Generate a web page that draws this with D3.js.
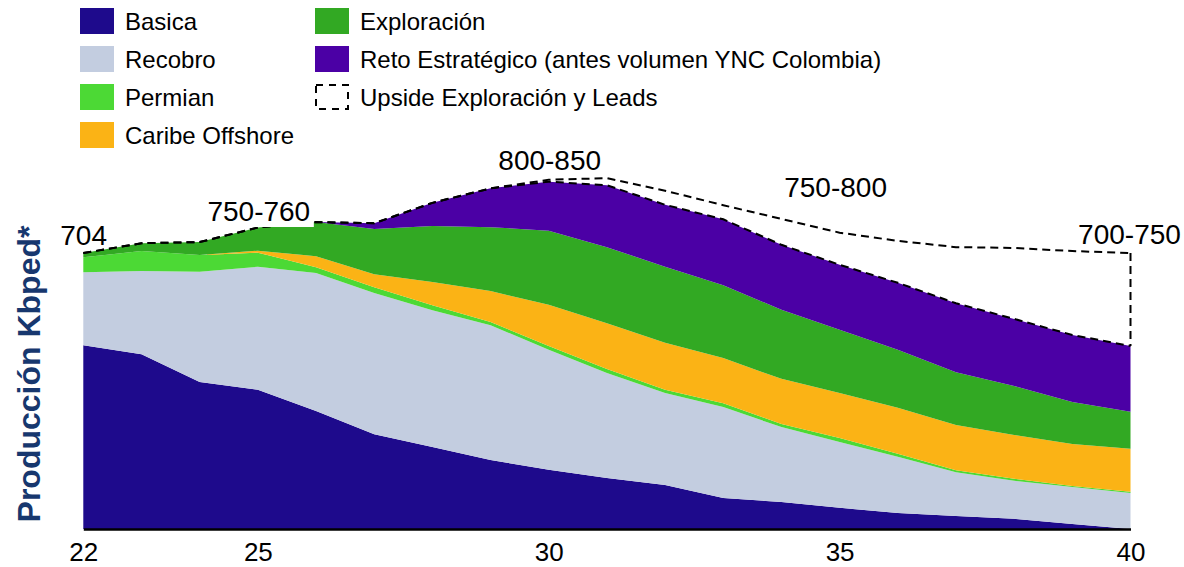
<!DOCTYPE html>
<html>
<head>
<meta charset="utf-8">
<script src="https://cdn.jsdelivr.net/npm/d3@7"></script>
<style>
  body { margin: 0; background: #fff; }
  svg { font-family: "Liberation Sans", Arial, sans-serif; }
</style>
</head>
<body>
<div id="chart"></div>
<script>
// production by year (Kbped)
const years = [22, 23, 24, 25, 26, 27, 28, 29, 30, 31, 32, 33, 34, 35, 36, 37, 38, 39, 40];
const basica      = [469, 446, 375, 355, 301, 242, 209, 176, 151, 130, 112, 79, 69, 54, 41, 33, 26, 13, 0];
const recobro     = [186, 212, 281, 314, 352, 360, 349, 344, 306, 268, 235, 232, 191, 168, 143, 112, 97, 94, 92];
const permian     = [38, 51, 43, 36, 15, 15, 13, 8, 10, 10, 8, 10, 8, 10, 8, 5, 5, 3, 3];
const caribe      = [0, 0, 0, 5, 28, 33, 59, 79, 105, 117, 120, 115, 115, 115, 117, 115, 112, 107, 110];
const exploracion = [11, 20, 33, 59, 87, 115, 143, 163, 189, 194, 194, 186, 176, 161, 148, 135, 125, 107, 94];
const reto        = [0, 0, 0, 0, 0, 15, 59, 99, 125, 158, 158, 168, 166, 166, 171, 176, 171, 171, 168];
const upside      = [0, 0, 0, 0, 0, 0, 0, 0, 5, 18, 36, 36, 66, 82, 107, 143, 181, 214, 237];

const tickYears = [22, 25, 30, 35, 40];

const seriesKeys = ["basica", "recobro", "permian", "caribe", "exploracion", "reto"];
const seriesNames = ["Basica", "Recobro", "Permian", "Caribe Offshore", "Exploración", "Reto Estratégico (antes volumen YNC Colombia)"];
const seriesColors = ["#1e0a8c", "#c3cde0", "#4cd935", "#fbb315", "#32a923", "#4b00a5"];

const annotations = [
    {year: 22, text: "704", dx: -23, y: 245, anchor: "start"},
    {year: 25, text: "750-760", dx: 1, y: 221, anchor: "middle", box: true},
    {year: 30, text: "800-850", dx: 1, y: 170, anchor: "middle"},
    {year: 35, text: "750-800", dx: -4, y: 197, anchor: "middle"},
    {year: 40, text: "700-750", dx: -1, y: 244, anchor: "middle"}
];

// build rows for d3.stack
const data = years.map((yr, i) => ({
    year: yr,
    basica: basica[i],
    recobro: recobro[i],
    permian: permian[i],
    caribe: caribe[i],
    exploracion: exploracion[i],
    reto: reto[i],
    upside: upside[i]
}));

const width = 1184, height = 567;

const svg = d3.select("#chart").append("svg")
    .attr("width", width)
    .attr("height", height);

const x = d3.scaleLinear()
    .domain([22, 40])
    .range([83.3, 1130.5]);

const y = d3.scaleLinear()
    .domain([0, 900])
    .range([529, 529 - 900 * 0.392]);

const stack = d3.stack().keys(seriesKeys);
const stacked = stack(data);

const area = d3.area()
    .x(d => x(d.data.year))
    .y0(d => y(d[0]))
    .y1(d => y(d[1]));

svg.append("g")
    .selectAll("path")
    .data(stacked)
    .join("path")
    .attr("fill", (d, i) => seriesColors[i])
    .attr("d", area);

// upside outline: dashed top of the stack, dashed upside line, closing edge at 40
const total = d => seriesKeys.reduce((s, k) => s + d[k], 0);
const dashed = g => g.attr("fill", "none")
    .attr("stroke", "#000")
    .attr("stroke-width", 2)
    .attr("stroke-dasharray", "8,5");

const totalLine = d3.line().x(d => x(d.year)).y(d => y(total(d)));
const upsideLine = d3.line().x(d => x(d.year)).y(d => y(total(d) + d.upside));

svg.append("path").datum(data).call(dashed).attr("d", totalLine);
svg.append("path").datum(data).call(dashed).attr("d", upsideLine);

const last = data[data.length - 1];
svg.append("line")
    .call(dashed)
    .attr("x1", x(last.year)).attr("x2", x(last.year))
    .attr("y1", y(total(last) + last.upside))
    .attr("y2", y(total(last)));

// x axis
const xAxis = svg.append("g")
    .attr("transform", `translate(0, ${y(0)})`)
    .call(d3.axisBottom(x).tickValues(tickYears).tickSize(0).tickPadding(14).tickFormat(d3.format("d")));
xAxis.select(".domain").attr("stroke", "#000").attr("stroke-width", 2.5);
xAxis.selectAll("text")
    .attr("font-size", 26)
    .attr("font-family", "Liberation Sans, Arial, sans-serif")
    .attr("fill", "#000");

// y axis title
svg.append("text")
    .attr("transform", `translate(40, 374) rotate(-90)`)
    .attr("text-anchor", "middle")
    .attr("font-size", 32)
    .attr("font-weight", "bold")
    .attr("fill", "#17376e")
    .text("Producción Kbped*");

// annotations
annotations.forEach(a => {
    if (a.box) {
        svg.append("rect")
            .attr("x", x(a.year) - 55)
            .attr("y", a.y - 26)
            .attr("width", 111)
            .attr("height", 32)
            .attr("fill", "#fff");
    }
    svg.append("text")
        .attr("x", x(a.year) + a.dx)
        .attr("y", a.y)
        .attr("text-anchor", a.anchor)
        .attr("font-size", 28)
        .attr("fill", "#000")
        .text(a.text);
});

// legend
const legendItems = [
    {name: seriesNames[0], color: seriesColors[0], col: 0, row: 0},
    {name: seriesNames[1], color: seriesColors[1], col: 0, row: 1},
    {name: seriesNames[2], color: seriesColors[2], col: 0, row: 2},
    {name: seriesNames[3], color: seriesColors[3], col: 0, row: 3},
    {name: seriesNames[4], color: seriesColors[4], col: 1, row: 0},
    {name: seriesNames[5], color: seriesColors[5], col: 1, row: 1},
    {name: "Upside Exploración y Leads", color: null, col: 1, row: 2}
];

const legend = svg.append("g").attr("class", "legend");
const colX = [80, 315];

legendItems.forEach(it => {
    const lx = colX[it.col], ly = 8 + it.row * 38;
    if (it.color) {
        legend.append("rect")
            .attr("x", lx).attr("y", ly)
            .attr("width", 34).attr("height", 26)
            .attr("fill", it.color);
    } else {
        legend.append("rect")
            .attr("x", lx + 1).attr("y", ly + 1)
            .attr("width", 32).attr("height", 24)
            .attr("fill", "none")
            .attr("stroke", "#000")
            .attr("stroke-width", 2)
            .attr("stroke-dasharray", "7,6");
    }
    legend.append("text")
        .attr("x", lx + 45)
        .attr("y", ly + 21.5)
        .attr("font-size", 24)
        .attr("fill", "#000")
        .text(it.name);
});
</script>
</body>
</html>
